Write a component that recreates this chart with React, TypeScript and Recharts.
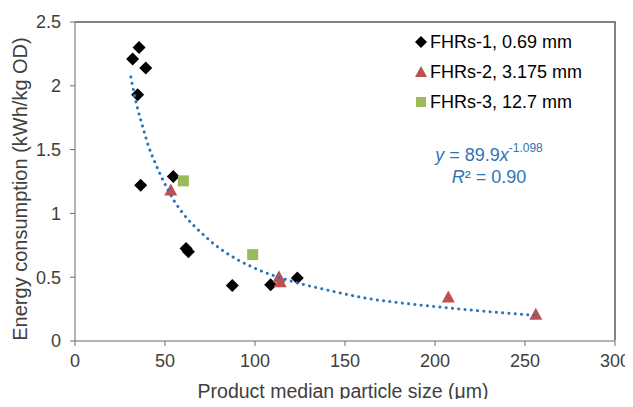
import { Scatter, ScatterChart, XAxis, YAxis } from "recharts";

// FHRs-1, 0.69 mm screen
const fhrs1X = [35.6, 32.0, 39.3, 34.8, 36.5, 54.6, 61.7, 63.0, 87.4, 108.7, 123.5];
const fhrs1Y = [2.3, 2.21, 2.14, 1.93, 1.22, 1.29, 0.724, 0.7, 0.435, 0.44, 0.493];

// FHRs-2, 3.175 mm screen
const fhrs2X = [53.2, 113.3, 114.0, 207.4, 256.0];
const fhrs2Y = [1.18, 0.5, 0.46, 0.34, 0.206];

// FHRs-3, 12.7 mm screen
const fhrs3X = [60.2, 98.7];
const fhrs3Y = [1.255, 0.677];

// power trendline
const trendX = [31, 33, 35, 38, 41, 45, 50, 55, 60, 70, 80, 90, 100, 120, 140, 160, 180, 200, 230, 256];
const trendY = [2.07, 1.93, 1.81, 1.66, 1.52, 1.38, 1.23, 1.1, 1.0, 0.85, 0.73, 0.64, 0.57, 0.47, 0.4, 0.34, 0.3, 0.27, 0.23, 0.2];

const xTicks = [0, 50, 100, 150, 200, 250, 300];
const yTicks = [0, 0.5, 1, 1.5, 2, 2.5];

const toPoints = (xs: number[], ys: number[]) => xs.map((x, i) => ({ x, y: ys[i] }));

const BLUE = "#2E75B6";
const RED = "#C0504D";
const GREEN = "#9BBB59";
const AXIS = "#6b6b6b";
const TEXT = "#404040";
const FONT = '"Liberation Sans", Arial, sans-serif';

const Diamond = (props: any) => {
  const { cx, cy } = props;
  return <path d={`M${cx} ${cy - 6.5}L${cx + 6.5} ${cy}L${cx} ${cy + 6.5}L${cx - 6.5} ${cy}Z`} fill="#000" />;
};

const Triangle = (props: any) => {
  const { cx, cy } = props;
  return <path d={`M${cx} ${cy - 7}L${cx + 6.5} ${cy + 5}L${cx - 6.5} ${cy + 5}Z`} fill={RED} />;
};

const Square = (props: any) => {
  const { cx, cy } = props;
  return <rect x={cx - 5.5} y={cy - 5.5} width={11} height={11} fill={GREEN} />;
};

const XTitle = () => (
  <text x={343} y={398} textAnchor="middle" fontSize={19.5} fill={TEXT} fontFamily={FONT}>
    Product median particle size (μm)
  </text>
);

const YTitle = () => (
  <text
    x={20}
    y={189}
    transform="rotate(-90 20 189)"
    textAnchor="middle"
    dominantBaseline="central"
    fontSize={20}
    fill={TEXT}
    fontFamily={FONT}
  >
    Energy consumption (kWh/kg OD)
  </text>
);

const legendItems = [
  { label: "FHRs-1, 0.69 mm", marker: <path d="M7 1L13 7L7 13L1 7Z" fill="#000" /> },
  { label: "FHRs-2, 3.175 mm", marker: <path d="M7 1L13 12L1 12Z" fill={RED} /> },
  { label: "FHRs-3, 12.7 mm", marker: <rect x={2} y={2} width={10} height={10} fill={GREEN} /> },
];

export default function App() {
  return (
    <div style={{ position: "relative", width: 633, height: 407, margin: -8, overflow: "hidden", fontFamily: FONT }}>
      <ScatterChart width={633} height={407} margin={{ top: 22, right: 18, bottom: 0, left: 0 }}>
        <XAxis
          type="number"
          dataKey="x"
          domain={[0, 300]}
          ticks={xTicks}
          height={66}
          tickSize={5}
          tickMargin={8}
          stroke={AXIS}
          tick={{ fill: TEXT, fontSize: 18, fontFamily: FONT }}
          label={<XTitle />}
        />
        <YAxis
          type="number"
          dataKey="y"
          domain={[0, 2.5]}
          ticks={yTicks}
          width={75}
          tickSize={5}
          tickMargin={9}
          stroke={AXIS}
          tick={{ fill: TEXT, fontSize: 18, fontFamily: FONT }}
          label={<YTitle />}
        />
        <Scatter data={toPoints(fhrs1X, fhrs1Y)} shape={Diamond} isAnimationActive={false} />
        <Scatter data={toPoints(fhrs2X, fhrs2Y)} shape={Triangle} isAnimationActive={false} />
        <Scatter data={toPoints(fhrs3X, fhrs3Y)} shape={Square} isAnimationActive={false} />
        <Scatter
          data={toPoints(trendX, trendY)}
          shape={() => <g />}
          line={{ stroke: BLUE, strokeWidth: 3, strokeDasharray: "0.1 6.2", strokeLinecap: "round" }}
          lineJointType="monotoneX"
          isAnimationActive={false}
        />
      </ScatterChart>

      {/* plot frame, top and right edges */}
      <svg
        width={633}
        height={407}
        style={{ position: "absolute", left: 0, top: 0, pointerEvents: "none" }}
      >
        <path d="M75 22H615V340.5" fill="none" stroke="#595959" strokeWidth={1.5} />
      </svg>

      <div style={{ position: "absolute", left: 414, top: 27, fontSize: 18, color: "#000" }}>
        {legendItems.map((item) => (
          <div key={item.label} style={{ display: "flex", alignItems: "center", height: 30 }}>
            <svg width={14} height={14} style={{ marginRight: 2 }}>
              {item.marker}
            </svg>
            <span>{item.label}</span>
          </div>
        ))}
      </div>

      <div
        style={{
          position: "absolute",
          left: 419,
          top: 145,
          width: 140,
          textAlign: "center",
          color: BLUE,
          fontSize: 18,
          lineHeight: "20px",
        }}
      >
        <div>
          <i>y</i> = 89.9<i>x</i>
          <span style={{ fontSize: 12, position: "relative", top: -9 }}>-1.098</span>
        </div>
        <div>
          <i>R</i>² = 0.90
        </div>
      </div>
    </div>
  );
}
